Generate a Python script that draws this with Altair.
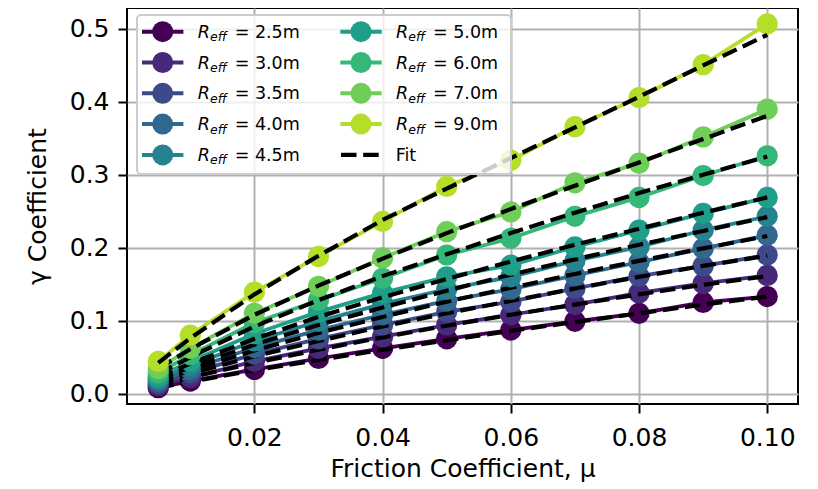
import altair as alt
import pandas as pd

# ---------------- data ----------------
mu = [0.005, 0.01, 0.02, 0.03, 0.04, 0.05, 0.06, 0.07, 0.08, 0.09, 0.10]
r_eff = ["2.5", "3.0", "3.5", "4.0", "4.5", "5.0", "6.0", "7.0", "9.0"]

gamma_2_5 = [0.008, 0.017, 0.033, 0.048, 0.062, 0.075, 0.087, 0.099, 0.110, 0.125, 0.133]
gamma_3_0 = [0.011, 0.022, 0.044, 0.062, 0.078, 0.094, 0.108, 0.122, 0.138, 0.151, 0.162]
gamma_3_5 = [0.014, 0.028, 0.054, 0.075, 0.094, 0.112, 0.126, 0.144, 0.161, 0.175, 0.190]
gamma_4_0 = [0.017, 0.033, 0.063, 0.087, 0.108, 0.127, 0.143, 0.162, 0.180, 0.199, 0.217]
gamma_4_5 = [0.020, 0.038, 0.072, 0.099, 0.123, 0.143, 0.160, 0.182, 0.201, 0.224, 0.243]
gamma_5_0 = [0.023, 0.044, 0.082, 0.112, 0.138, 0.160, 0.176, 0.201, 0.224, 0.247, 0.269]
gamma_6_0 = [0.028, 0.053, 0.097, 0.128, 0.158, 0.190, 0.213, 0.243, 0.269, 0.299, 0.326]
gamma_7_0 = [0.034, 0.062, 0.110, 0.147, 0.186, 0.222, 0.249, 0.289, 0.316, 0.352, 0.390]
gamma_9_0 = [0.044, 0.080, 0.139, 0.188, 0.236, 0.284, 0.320, 0.366, 0.406, 0.451, 0.507]

fit_2_5 = [0.008, 0.016, 0.032, 0.046, 0.060, 0.073, 0.086, 0.098, 0.110, 0.122, 0.133]
fit_3_0 = [0.011, 0.022, 0.042, 0.060, 0.077, 0.093, 0.108, 0.122, 0.136, 0.149, 0.161]
fit_3_5 = [0.014, 0.027, 0.051, 0.072, 0.092, 0.110, 0.127, 0.144, 0.160, 0.175, 0.189]
fit_4_0 = [0.016, 0.032, 0.059, 0.083, 0.105, 0.126, 0.145, 0.164, 0.182, 0.199, 0.216]
fit_4_5 = [0.019, 0.036, 0.067, 0.094, 0.118, 0.141, 0.163, 0.184, 0.204, 0.223, 0.242]
fit_5_0 = [0.022, 0.041, 0.075, 0.105, 0.132, 0.157, 0.181, 0.204, 0.226, 0.248, 0.269]
fit_6_0 = [0.027, 0.050, 0.092, 0.128, 0.161, 0.191, 0.220, 0.248, 0.275, 0.300, 0.325]
fit_7_0 = [0.034, 0.061, 0.108, 0.148, 0.185, 0.220, 0.253, 0.285, 0.317, 0.349, 0.381]
fit_9_0 = [0.042, 0.076, 0.136, 0.189, 0.238, 0.281, 0.323, 0.365, 0.407, 0.450, 0.492]

x_ticks = [0.02, 0.04, 0.06, 0.08, 0.10]
y_ticks = [0.0, 0.1, 0.2, 0.3, 0.4, 0.5]

gammas = [gamma_2_5, gamma_3_0, gamma_3_5, gamma_4_0, gamma_4_5,
          gamma_5_0, gamma_6_0, gamma_7_0, gamma_9_0]
fits = [fit_2_5, fit_3_0, fit_3_5, fit_4_0, fit_4_5,
        fit_5_0, fit_6_0, fit_7_0, fit_9_0]

# ---------------- style ----------------
colors = ["#440154", "#482878", "#3e4989", "#31688e", "#26828e",
          "#1f9e89", "#35b779", "#6ece58", "#b5de2b"]
FONT = "DejaVu Sans"
W, H = 671, 396

x_scale = alt.Scale(domain=[0.00012, 0.1048], nice=False, zero=False)
y_scale = alt.Scale(domain=[-0.0144, 0.5288], nice=False, zero=False)

x_axis = alt.Axis(values=x_ticks, format=".2f", title="Friction Coefficient, μ",
                  titleX=W / 2, titleY=72, titleBaseline="alphabetic",
                  titleAlign="center", labelPadding=12)
y_axis = alt.Axis(values=y_ticks, format=".1f", title="γ Coefficient",
                  titleX=-82, titleY=H / 2, titleAngle=270,
                  titleBaseline="alphabetic", titleAlign="center", labelPadding=9)

layers = []
for g, f, c in zip(gammas, fits, colors):
    df = pd.DataFrame({"mu": mu, "gamma": g, "fit": f})
    base = alt.Chart(df).encode(x=alt.X("mu:Q", scale=x_scale, axis=x_axis))
    layers.append(base.mark_line(color=c, strokeWidth=3.75, strokeJoin="round").encode(
        y=alt.Y("gamma:Q", scale=y_scale, axis=y_axis)))
    layers.append(base.mark_point(filled=True, color=c, size=450, opacity=1, shape="circle").encode(
        y=alt.Y("gamma:Q", scale=y_scale, axis=y_axis)))
    layers.append(base.mark_line(color="black", strokeWidth=4.2, strokeDash=[15.5, 6.7]).encode(
        y=alt.Y("fit:Q", scale=y_scale, axis=y_axis)))

# ---------------- legend (drawn by hand, 2 columns like matplotlib) ----------------
idx = list(range(len(r_eff)))
leg = pd.DataFrame({
    "label": ["= " + r + "m" for r in r_eff],
    "color": colors,
    "col": [i // 5 for i in idx],
    "row": [i % 5 for i in idx],
})
leg["cx"] = 35.7 + leg["col"] * 198.3
leg["cy"] = 23.7 + leg["row"] * 30.8
leg["x1"] = leg["cx"] - 20.7
leg["x2"] = leg["cx"] + 20.7
leg["tx"] = leg["cx"] + 35.0
leg["ty"] = leg["cy"] + 6.0
leg["sx"] = leg["tx"] + 12.3
leg["sy"] = leg["cy"] + 9.5
leg["ex"] = leg["tx"] + 37.0
leg["R"] = "R"
leg["sub"] = "eff"

box = alt.Chart(pd.DataFrame({"a": [0]})).mark_rect(
    fill="white", fillOpacity=0.8, stroke="#cccccc", strokeWidth=2, cornerRadius=4
).encode(x=alt.value(10), x2=alt.value(384), y=alt.value(7), y2=alt.value(166))

lb = alt.Chart(leg)
sym_line = lb.mark_rule(strokeWidth=4).encode(
    x=alt.X("x1:Q", scale=None), x2="x2:Q", y=alt.Y("cy:Q", scale=None),
    color=alt.Color("color:N", scale=None))
sym_pt = lb.mark_point(filled=True, size=441, opacity=1, shape="circle").encode(
    x=alt.X("cx:Q", scale=None), y=alt.Y("cy:Q", scale=None),
    color=alt.Color("color:N", scale=None))
txt_r = lb.mark_text(align="left", baseline="alphabetic", font=FONT, fontSize=17.5,
                     fontStyle="italic", color="black").encode(
    x=alt.X("tx:Q", scale=None), y=alt.Y("ty:Q", scale=None), text="R:N")
txt_sub = lb.mark_text(align="left", baseline="alphabetic", font=FONT, fontSize=12.5,
                       fontStyle="italic", color="black").encode(
    x=alt.X("sx:Q", scale=None), y=alt.Y("sy:Q", scale=None), text="sub:N")
txt_eq = lb.mark_text(align="left", baseline="alphabetic", font=FONT, fontSize=17.5,
                      color="black").encode(
    x=alt.X("ex:Q", scale=None), y=alt.Y("ty:Q", scale=None), text="label:N")

fit_cy = 23.7 + 4 * 30.8
fit_line = alt.Chart(pd.DataFrame({"a": [0]})).mark_rule(
    color="black", strokeWidth=4.2, strokeDash=[15.5, 6.7]
).encode(x=alt.value(214), x2=alt.value(255), y=alt.value(fit_cy))
fit_txt = alt.Chart(pd.DataFrame({"t": ["Fit"]})).mark_text(
    align="left", baseline="alphabetic", font=FONT, fontSize=17.5, color="black"
).encode(x=alt.value(268.7), y=alt.value(fit_cy + 6.0), text="t:N")

chart = alt.layer(*layers, box, sym_line, sym_pt, txt_r, txt_sub, txt_eq, fit_line, fit_txt).properties(
    width=W, height=H,
    autosize=alt.AutoSizeParams(type="none"),
    padding={"left": 119, "top": 0, "right": 12, "bottom": 84},
    background="white",
).configure_view(
    stroke="black", strokeWidth=2
).configure_axis(
    labelFont=FONT, labelFontSize=25, labelColor="black",
    titleFont=FONT, titleFontSize=25, titleFontWeight="normal", titleColor="black",
    tickColor="black", tickWidth=2, tickSize=9,
    gridColor="#b0b0b0", gridWidth=2, domain=False,
)

chart.save("out.html", embed_options={"renderer": "svg", "actions": False})
